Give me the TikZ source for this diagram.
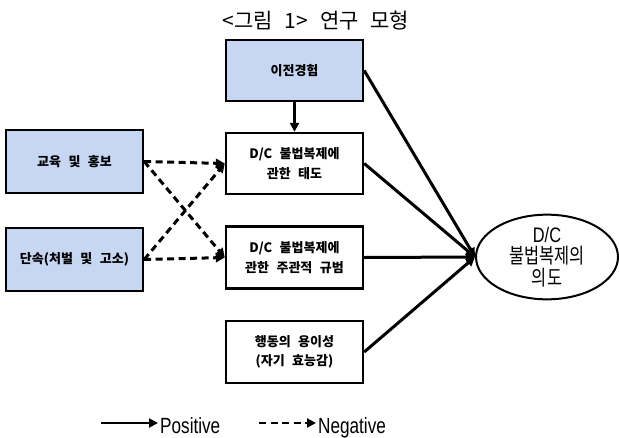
\documentclass[tikz,border=0pt]{standalone}
\usepackage{fontspec}
\setmainfont{Liberation Sans}
\newfontfamily\kr{Noto Sans CJK KR}[WordSpace=2.5]
\newfontfamily\krn{Noto Sans CJK KR}[FakeStretch=0.78]
\newfontfamily\narrow{Liberation Sans}[FakeStretch=0.78]
\usetikzlibrary{shapes.geometric,arrows.meta}
\definecolor{boxblue}{RGB}{198,214,243}
\begin{document}
\begin{tikzpicture}[x=1pt,y=-1pt,
  box/.style={draw, line width=2.4pt, minimum width=137pt, minimum height=61pt, inner sep=0pt, align=center,
     font=\kr\bfseries\fontsize{13}{19.5}\selectfont},
  bluebox/.style={box, fill=boxblue},
  arr/.style={line width=3pt, -{Triangle[length=9pt,width=9pt]}},
  darr/.style={line width=3pt, dash pattern=on 7pt off 4.5pt, -{Triangle[length=9pt,width=9pt]}}]
\useasboundingbox (0,0) rectangle (619,437);
\node[font=\kr\fontsize{21}{24}\selectfont] (title) at (316,21) {<그림 1> 연구 모형};
\node[bluebox] (prior) at (294.5,70.5) {이전경험};
\node[bluebox, minimum height=63pt] (edu) at (74.5,161.5) {교육 및 홍보};
\node[bluebox, minimum height=63pt] (enf) at (74.5,259.5) {단속(처벌 및 고소)};
\node[box] (att) at (294.5,163.5) {D/C 불법복제에\\관한 태도};
\node[box, minimum height=62pt] (norm) at (294.5,257.5) {D/C 불법복제에\\관한 주관적 규범};
\node[box, minimum height=62pt] (ease) at (294.5,352) {행동의 용이성\\(자기 효능감)};
\node[draw, ellipse, line width=2pt, minimum width=142pt, minimum height=81pt, inner sep=0pt, align=center,
  font=\krn\fontsize{21}{21.5}\selectfont] (intent) at (547,257) {{\narrow D/C}\\불법복제의\\의도};
\coordinate (conv) at (intent.west);
\draw[arr] (prior.south) -- (att.north);
\draw[arr] (prior.east) -- (conv);
\draw[arr] (att.east) -- (conv);
\draw[arr] (norm.east) -- (conv);
\draw[arr] (ease.east) -- (conv);
\draw[darr] (edu.east) -- (att.west);
\draw[darr] (edu.east) -- (norm.west);
\draw[darr] (enf.east) -- (att.west);
\draw[darr] (enf.east) -- (norm.west);
% legend
\coordinate (ps) at (101,423);
\coordinate (pe) at (158,423);
\draw[arr, line width=2.6pt] (ps) -- (pe);
\node[anchor=base west, inner sep=0pt, font=\narrow\fontsize{22}{22}\selectfont] (pos) at (160,433.5) {Positive};
\coordinate (ns) at (259,423);
\coordinate (ne) at (316,423);
\draw[darr, line width=2.6pt] (ns) -- (ne);
\node[anchor=base west, inner sep=0pt, font=\narrow\fontsize{22}{22}\selectfont] (neg) at (318,433.5) {Negative};
\end{tikzpicture}
\end{document}
